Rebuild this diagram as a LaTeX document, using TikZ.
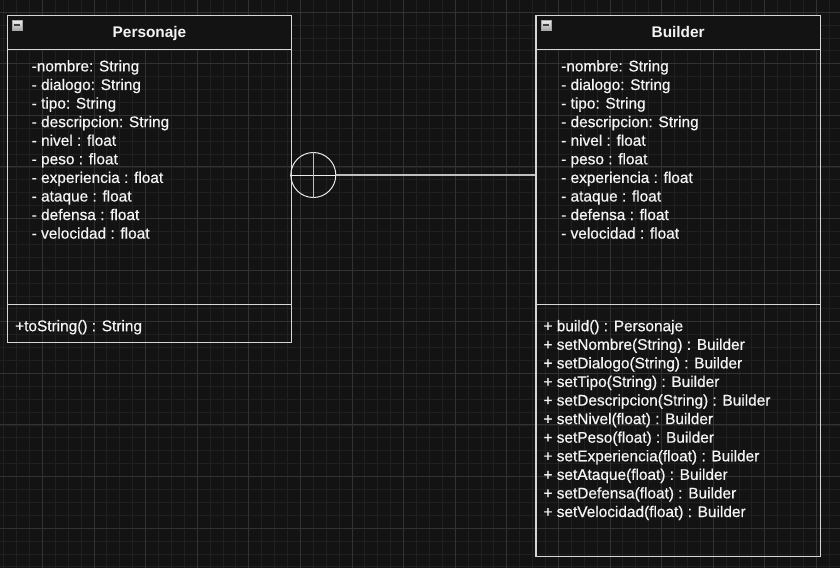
\documentclass[tikz,border=0pt]{standalone}
\usepackage{fontspec}
\setmainfont{Liberation Sans}
\newfontfamily\memfont{Liberation Sans}[FakeBold=0.6]
\definecolor{bgc}{HTML}{131313}
\definecolor{minorg}{HTML}{202020}
\definecolor{majorg}{HTML}{323232}
\definecolor{edgec}{HTML}{D6D6D6}
\definecolor{txtc}{HTML}{F4F4F4}
\tikzset{
  classbox/.style={draw=edgec, line width=1.4pt, rectangle, inner sep=0pt},
  sepline/.style={draw=edgec, line width=1.4pt},
  membertext/.style={anchor=base west, inner sep=0pt, text=txtc, font=\memfont\fontsize{15.4}{18.5}\selectfont},
  titletext/.style={anchor=base, inner sep=0pt, text=txtc, font=\fontsize{15.4}{18.5}\selectfont\bfseries},
  minorline/.style={draw=minorg, line width=0.8pt},
  majorline/.style={draw=majorg, line width=1.1pt},
  iconbox/.style={draw=gray!70, line width=0.6pt, top color=white!90!gray, bottom color=gray!70, rectangle, inner sep=0pt, minimum size=10pt},
  assoccircle/.style={circle, draw=white!92!black, line width=1pt, minimum size=45pt, inner sep=0pt},
  assocline/.style={draw=white!75!black, line width=1.3pt}
}
\begin{document}
\begin{tikzpicture}[x=1pt,y=-1pt]
\fill[bgc] (0,0) rectangle (840,568);
\useasboundingbox (0,0) rectangle (840,568);
% grid
\foreach \i in {0,...,65} {\draw[minorline] ({3.6+12.9*\i},0) -- ({3.6+12.9*\i},568);}
\foreach \i in {0,...,44} {\draw[minorline] (0,{-0.8+12.9*\i}) -- (840,{-0.8+12.9*\i});}
\foreach \i in {0,...,16} {\draw[majorline] ({42.5+51.6*\i},0) -- ({42.5+51.6*\i},568);}
\foreach \i in {0,...,11} {\draw[majorline] (0,{12.1+51.6*\i}) -- (840,{12.1+51.6*\i});}

% header fills
\fill[bgc] (7.3,15.7) rectangle (291.7,49.3);
\fill[bgc] (536,15.7) rectangle (820.3,49.3);

% class boxes
\node[classbox, minimum width=284.4pt, minimum height=327pt] (pers) at (149.5,179.2) {};
\node[classbox, minimum width=284.3pt, minimum height=541pt] (build) at (678.15,286.2) {};
\draw[sepline] (pers.west |- 0,49.3) -- (pers.east |- 0,49.3);
\draw[sepline] (pers.west |- 0,304.3) -- (pers.east |- 0,304.3);
\draw[sepline] (build.west |- 0,49.3) -- (build.east |- 0,49.3);
\draw[sepline] (build.west |- 0,304.3) -- (build.east |- 0,304.3);

% collapse icons
\node[iconbox] (picon) at (17,25) {};
\draw[black!75, line width=1.2pt] ([xshift=2pt]picon.west) -- ([xshift=-2pt]picon.east);
\node[iconbox] (bicon) at (546,25) {};
\draw[black!75, line width=1.2pt] ([xshift=2pt]bicon.west) -- ([xshift=-2pt]bicon.east);

% titles
\node[titletext] (ptitle) at (149.5,37.6) {Personaje};
\node[titletext] (btitle) at (678.15,37.6) {Builder};

% attributes
\foreach \t [count=\k from 0] in {-nombre: String, - dialogo: String, - tipo: String, - descripcion: String, - nivel : float, - peso : float, - experiencia : float, - ataque : float, - defensa : float, - velocidad : float} {
  \node[membertext] (pa\k) at (31.5,{71.4+18.58*\k}) {\t};
  \node[membertext] (ba\k) at (561,{71.4+18.58*\k}) {\t};
}

% methods
\node[membertext] (pm0) at (15,331.2) {+toString() : String};
\foreach \t [count=\k from 0] in {+ build() : Personaje, + setNombre(String) : Builder, + setDialogo(String) : Builder, + setTipo(String) : Builder, + setDescripcion(String) : Builder, + setNivel(float) : Builder, + setPeso(float) : Builder, + setExperiencia(float) : Builder, + setAtaque(float) : Builder, + setDefensa(float) : Builder, + setVelocidad(float) : Builder} {
  \node[membertext] (bm\k) at (543.3,{331.2+18.58*\k}) {\t};
}

% association with circle-plus end
\node[assoccircle] (circ) at (313.3,175) {};
\draw[white!92!black, line width=1pt] (circ.west) -- (circ.east);
\draw[white!75!black, line width=1pt] (circ.north) -- (circ.south);
\draw[assocline] (circ.east) -- (circ.east -| build.west);
\end{tikzpicture}
\end{document}
